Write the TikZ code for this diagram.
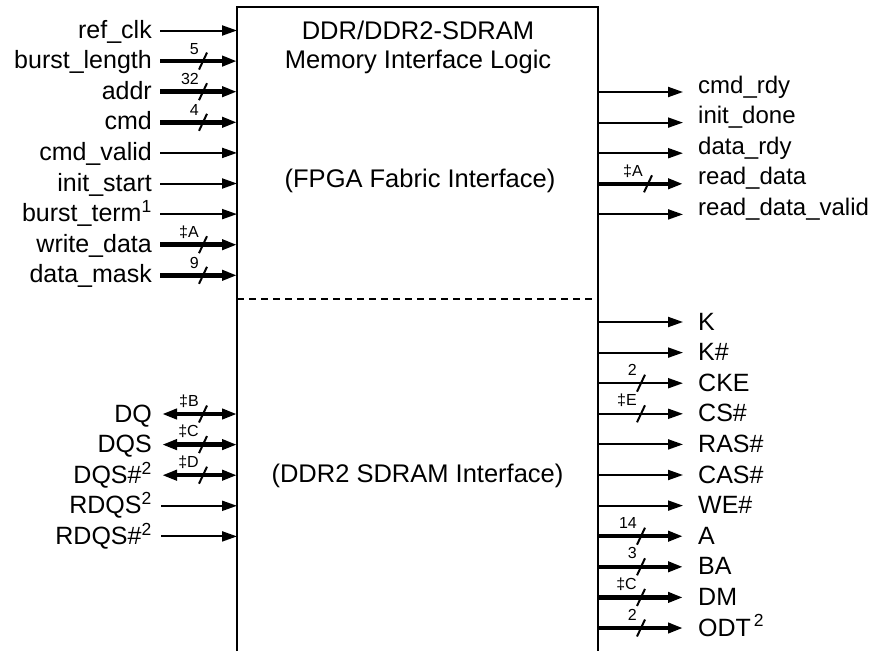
\documentclass[tikz,border=0pt]{standalone}
\usepackage{fontspec}
\setmainfont{Liberation Sans}
\usetikzlibrary{arrows.meta}
\tikzset{
  sig/.style={draw, line width=2pt, -{Triangle[length=15pt,width=10pt]}},
  bus/.style={draw, line width=4.5pt, -{Triangle[length=15pt,width=10pt]}},
  bidir/.style={draw, line width=4.5pt, {Triangle[length=15pt,width=10pt]}-{Triangle[length=15pt,width=10pt]}},
  lbl/.style={font=\fontsize{25}{28}\selectfont, inner sep=0pt},
  title/.style={font=\fontsize{25.5}{28}\selectfont, inner sep=0pt, anchor=base},
  rlbl/.style={font=\fontsize{24}{28}\selectfont, inner sep=0pt, anchor=base west},
  wlbl/.style={font=\fontsize{16}{18}\selectfont, inner sep=0pt, anchor=base east},
  slash/.style={draw, line width=2pt},
  boxline/.style={draw, line width=2pt},
  divider/.style={draw, line width=2pt, dash pattern=on 7pt off 5pt},
}
\begin{document}
\begin{tikzpicture}[x=1pt,y=-1pt]
\useasboundingbox (0,0) rectangle (873,651);
% block
\coordinate (BL) at (237,651);
\coordinate (TL) at (237,7);
\coordinate (TR) at (598,7);
\coordinate (BR) at (598,651);
\draw[boxline] (BL) -- (TL) -- (TR) -- (BR);
\coordinate (DL) at (237,299);
\coordinate (DR) at (598,299);
\draw[divider] (DL) -- (DR);
% titles
\node[title] (t1) at (418,39) {DDR/DDR2-SDRAM};
\node[title] (t2) at (418,68) {Memory Interface Logic};
\node[title] (fpga) at (420,187) {(FPGA Fabric Interface)};
\node[title] (ddr2) at (417.5,482) {(DDR2 SDRAM Interface)};
% left top, single lines
\foreach \n/\y/\t in {rc/30.5/ref\_clk, cv/152.9/cmd\_valid, is/183.5/init\_start, bt/214.1/{burst\_term\textsuperscript{1}}}{
  \coordinate (\n-s) at (160,\y);
  \coordinate (\n-e) at (237,\y);
  \node[lbl, anchor=base east] (\n) at (152,\y+7.5) {\t};
  \draw[sig] (\n-s) -- (\n-e);
}
% left top, buses
\foreach \n/\y/\t/\w in {bl/61.1/burst\_length/5, ad/91.7/addr/32, cm/122.3/cmd/4, wd/244.7/write\_data/‡A, dm/275.3/data\_mask/9}{
  \coordinate (\n-s) at (160,\y);
  \coordinate (\n-e) at (237,\y);
  \coordinate (\n-m) at (203,\y);
  \node[lbl, anchor=base east] (\n) at (152,\y+7.5) {\t};
  \draw[bus] (\n-s) -- (\n-e);
  \draw[slash] ([shift={(-4,8.5)}]\n-m) -- ([shift={(4,-8.5)}]\n-m);
  \node[wlbl] (\n-w) at (199,\y-7) {\w};
}
% right top, single lines
\foreach \n/\y/\t in {cr/92/cmd\_rdy, id/122.6/init\_done, dr/153.2/data\_rdy, rv/214.4/read\_data\_valid}{
  \coordinate (\n-s) at (598,\y);
  \coordinate (\n-e) at (683,\y);
  \node[rlbl] (\n) at (698,\y+1) {\t};
  \draw[sig] (\n-s) -- (\n-e);
}
% right top, bus
\coordinate (rd-s) at (598,183.8);
\coordinate (rd-e) at (683,183.8);
\coordinate (rd-m) at (648,183.8);
\node[rlbl] (rd) at (698,184.8) {read\_data};
\draw[bus] (rd-s) -- (rd-e);
\draw[slash] ([shift={(-4,8.5)}]rd-m) -- ([shift={(4,-8.5)}]rd-m);
\node[wlbl] (rd-w) at (643,176.8) {‡A};
% left bottom, bidirectional buses
\foreach \n/\y/\t/\w in {dq/414/DQ/‡B, dqs/444.6/DQS/‡C, dqsn/475.2/{DQS\#\textsuperscript{2}}/‡D}{
  \coordinate (\n-s) at (162,\y);
  \coordinate (\n-e) at (237,\y);
  \coordinate (\n-m) at (203,\y);
  \node[lbl, anchor=base east] (\n) at (152,\y+8) {\t};
  \draw[bidir] (\n-s) -- (\n-e);
  \draw[slash] ([shift={(-4,8.5)}]\n-m) -- ([shift={(4,-8.5)}]\n-m);
  \node[wlbl] (\n-w) at (199,\y-8) {\w};
}
% left bottom, single lines
\foreach \n/\y/\t in {rq/505.8/{RDQS\textsuperscript{2}}, rqn/536.4/{RDQS\#\textsuperscript{2}}}{
  \coordinate (\n-s) at (161,\y);
  \coordinate (\n-e) at (237,\y);
  \node[lbl, anchor=base east] (\n) at (152,\y+8) {\t};
  \draw[sig] (\n-s) -- (\n-e);
}
% right bottom, single lines
\foreach \n/\y/\t in {k/322/K, kn/352.6/K\#, ras/444.4/RAS\#, cas/475/CAS\#, we/505.6/WE\#}{
  \coordinate (\n-s) at (598,\y);
  \coordinate (\n-e) at (683,\y);
  \node[lbl, anchor=base west] (\n) at (698,\y+8) {\t};
  \draw[sig] (\n-s) -- (\n-e);
}
% right bottom, thin lines with width marks
\foreach \n/\y/\t/\w in {cke/383.2/CKE/2, cs/413.8/CS\#/‡E}{
  \coordinate (\n-s) at (598,\y);
  \coordinate (\n-e) at (683,\y);
  \coordinate (\n-m) at (641,\y);
  \node[lbl, anchor=base west] (\n) at (698,\y+8) {\t};
  \draw[sig] (\n-s) -- (\n-e);
  \draw[slash] ([shift={(-4,8.5)}]\n-m) -- ([shift={(4,-8.5)}]\n-m);
  \node[wlbl] (\n-w) at (637,\y-8) {\w};
}
% right bottom, buses
\foreach \n/\y/\t/\w in {a/536.2/A/14, ba/566.8/BA/3, dmo/597.4/DM/‡C, odt/628/{ODT\hspace{3pt}\textsuperscript{2}}/2}{
  \coordinate (\n-s) at (598,\y);
  \coordinate (\n-e) at (683,\y);
  \coordinate (\n-m) at (641,\y);
  \node[lbl, anchor=base west] (\n) at (698,\y+8) {\t};
  \draw[bus] (\n-s) -- (\n-e);
  \draw[slash] ([shift={(-4,8.5)}]\n-m) -- ([shift={(4,-8.5)}]\n-m);
  \node[wlbl] (\n-w) at (637,\y-8) {\w};
}
\end{tikzpicture}
\end{document}
